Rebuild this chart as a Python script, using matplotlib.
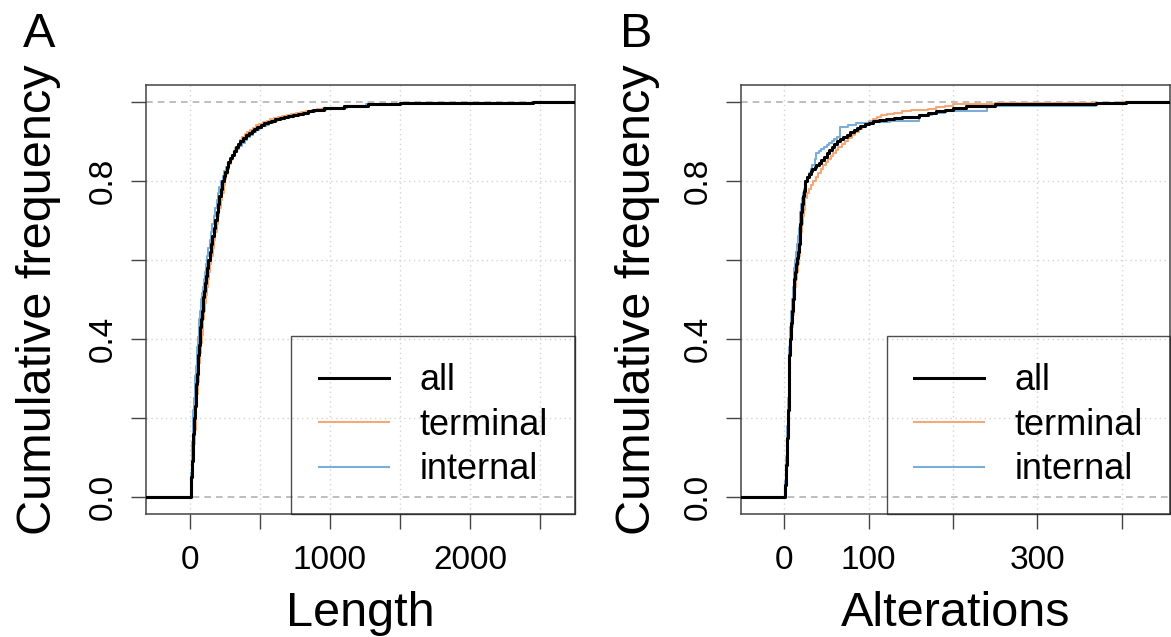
import numpy as np
import matplotlib
matplotlib.use("Agg")
import matplotlib.pyplot as plt

plt.rcParams['font.family'] = ['Liberation Sans', 'DejaVu Sans']

# ECDF step points: knots and cumulative frequency
len_all_x = [5, 10, 15, 20, 25, 30, 35, 40, 45, 50, 55, 60, 65, 70, 75, 80, 85, 90, 95, 100, 108, 115, 122,
             130, 140, 150, 160, 170, 180, 190, 200, 210, 220, 230, 240, 250, 262, 275, 288, 300, 315, 330,
             345, 360, 380, 400, 420, 440, 460, 480, 505, 530, 555, 580, 610, 640, 670, 700, 735, 770, 805,
             840, 880, 920, 960, 1000, 1100, 1270, 1500, 2450]
len_all_y = [.02, .05, .09, .12, .16, .2, .23, .26, .285, .31, .335, .36, .385, .41, .43, .45, .47, .49, .505,
             .52, .54, .56, .58, .6, .62, .64, .66, .68, .7, .72, .74, .76, .78, .8, .812, .823, .835, .847,
             .858, .866, .876, .885, .893, .9, .908, .915, .92, .925, .931, .937, .941, .945, .949, .952, .955,
             .958, .96, .963, .966, .968, .972, .975, .978, .98, .983, .985, .988, .995, .996, 1.0]

len_term_x = [6, 12, 18, 24, 30, 35, 40, 46, 52, 57, 62, 68, 74, 79, 85, 90, 95, 100, 106, 112, 120, 127,
              135, 142, 152, 162, 172, 182, 191, 200, 210, 220, 230, 240, 250, 258, 270, 280, 290, 300, 312,
              325, 340, 355, 372, 390, 410, 430, 450, 470, 495, 520, 548, 575, 600, 630, 660, 690, 725, 760,
              795, 830, 870, 910, 950, 990, 1100, 1280, 1500, 2460]
len_term_y = [.015, .04, .07, .1, .135, .17, .2, .23, .26, .29, .315, .34, .365, .39, .41, .43, .45, .47, .49,
              .51, .53, .55, .57, .59, .61, .63, .65, .67, .69, .71, .73, .75, .77, .79, .805, .817, .83, .842,
              .853, .862, .872, .882, .893, .903, .911, .918, .923, .928, .934, .94, .944, .948, .952, .955,
              .958, .96, .963, .965, .968, .97, .973, .976, .979, .981, .983, .985, .988, .995, .997, 1.0]

len_int_x = [4, 8, 12, 16, 21, 25, 30, 34, 39, 44, 48, 53, 58, 62, 67, 72, 77, 82, 87, 92, 99, 106, 113,
             120, 130, 140, 150, 160, 170, 180, 190, 200, 211, 222, 233, 245, 258, 270, 285, 300, 318, 335,
             352, 370, 390, 410, 430, 450, 470, 490, 515, 540, 565, 590, 620, 650, 680, 710, 745, 780, 815,
             850, 890, 930, 970, 1010, 1120, 1260, 1500, 2440]
len_int_y = [.025, .06, .1, .14, .18, .22, .25, .28, .305, .33, .355, .38, .405, .43, .45, .47, .485, .5,
             .515, .53, .55, .57, .59, .61, .63, .65, .67, .69, .71, .73, .75, .77, .785, .8, .812, .825,
             .835, .845, .855, .865, .872, .88, .888, .895, .903, .91, .916, .922, .928, .933, .938, .942,
             .946, .95, .953, .956, .959, .962, .965, .967, .97, .973, .976, .979, .982, .984, .988, .994,
             .996, 1.0]

alt_all_x = [1, 2, 3, 4, 5, 6, 7, 8, 9, 10, 11, 12, 13, 14, 15, 16, 17, 18, 19, 20, 21, 22, 23, 24, 25, 27,
             29, 31, 33, 36, 38, 41, 44, 47, 50, 53, 56, 59, 62, 66, 70, 74, 78, 82, 86, 90, 95, 100, 105,
             112, 120, 130, 140, 150, 160, 170, 180, 190, 200, 215, 250, 300, 370, 405]
alt_all_y = [.03, .08, .15, .22, .3, .36, .4, .44, .47, .5, .525, .55, .57, .59, .605, .62, .64, .66, .69,
             .72, .74, .76, .775, .79, .8, .81, .818, .825, .83, .835, .84, .845, .852, .86, .87, .878, .885,
             .892, .9, .905, .91, .916, .922, .927, .932, .938, .943, .947, .95, .953, .956, .958, .96, .962,
             .965, .97, .975, .98, .985, .99, .993, .995, .997, 1.0]

alt_term_x = [1, 2, 3, 4, 5, 6, 7, 8, 9, 10, 11, 12, 13, 14, 15, 16, 17, 18, 19, 20, 21, 22, 23, 24, 25, 27,
              29, 31, 34, 37, 40, 43, 46, 49, 52, 55, 58, 61, 64, 68, 72, 76, 80, 84, 88, 92, 96, 100, 105,
              110, 115, 122, 130, 140, 150, 160, 170, 180, 190, 200, 210, 250, 400]
alt_term_y = [.02, .06, .12, .18, .25, .31, .36, .4, .43, .46, .485, .51, .53, .55, .57, .59, .61, .63, .65,
              .67, .69, .71, .725, .74, .755, .77, .78, .79, .8, .81, .82, .83, .84, .848, .855, .862, .87,
              .878, .885, .892, .9, .908, .915, .922, .93, .937, .945, .95, .955, .96, .965, .968, .972, .975,
              .978, .98, .982, .986, .99, .993, .995, .997, 1.0]

alt_int_x = [1, 2, 3, 4, 5, 6, 7, 8, 9, 10, 11, 12, 13, 14, 15, 16, 17, 18, 19, 20, 21, 22, 23, 24, 25, 27,
             29, 31, 33, 36, 38, 41, 44, 47, 50, 53, 56, 59, 62, 66, 75, 85, 100, 125, 160, 175, 190, 240,
             370, 405]
alt_int_y = [.04, .1, .18, .25, .32, .38, .43, .47, .5, .53, .555, .58, .6, .62, .64, .66, .68, .7, .72, .74,
             .755, .77, .78, .79, .8, .81, .82, .83, .84, .855, .87, .875, .88, .885, .89, .895, .9, .905,
             .91, .935, .94, .945, .948, .95, .965, .97, .975, .99, .994, 1.0]

series_names = ['all', 'terminal', 'internal']
series_colors = ['black', '#f2a877', '#7aaed6']
series_widths = [2.2, 1.5, 1.5]

len_xticks = [0, 500, 1000, 1500, 2000, 2500]
len_xlabels = ['0', '', '1000', '', '2000', '']
alt_xticks = [0, 100, 200, 300, 400]
alt_xlabels = ['0', '100', '', '300', '']
yticks = [0, 0.2, 0.4, 0.6, 0.8, 1.0]
ylabels = ['0.0', '', '0.4', '', '0.8', '']

W, H = 1171, 637
fig = plt.figure(figsize=(W / 100, H / 100), dpi=100)


def panel(left_px, xlim, data, xticks, xlabels, xlab, letter, letter_x, ylab_x):
    ax = fig.add_axes([left_px / W, (H - 514.3) / H, 429.3 / W, (514.3 - 85) / H])
    ax.set_xlim(xlim)
    ax.set_ylim(-0.044, 1.042)
    for v in xticks:
        ax.axvline(v, color='#d3d3d3', lw=1, ls=(0, (1, 2.5)), zorder=0)
    for v in yticks[1:-1]:
        ax.axhline(v, color='#d3d3d3', lw=1, ls=(0, (1, 2.5)), zorder=0)
    for v in (0, 1):
        ax.axhline(v, color='#b3b3b3', lw=1.2, ls=(0, (4, 3)), zorder=1)
    handles = {}
    for i in [1, 2, 0]:
        xs, ys = data[i]
        px = [xlim[0]] + list(xs) + [xlim[1]]
        py = [0] + list(ys) + [ys[-1]]
        ln, = ax.step(px, py, where='post', color=series_colors[i], lw=series_widths[i],
                      zorder=2 + (i == 0))
        handles[i] = ln
    leg = ax.legend([handles[i] for i in range(3)], series_names, loc='lower right',
                    borderaxespad=0, fontsize=26, handlelength=1.95, handletextpad=0.85,
                    borderpad=0.75, labelspacing=0.26, fancybox=False, frameon=True)
    leg.get_frame().set_facecolor('none')
    leg.get_frame().set_edgecolor('#222222')
    leg.get_frame().set_linewidth(1.0)
    ax.set_xticks(xticks)
    ax.set_xticklabels(xlabels)
    ax.set_yticks(yticks)
    ax.set_yticklabels(ylabels, rotation=90, va='center')
    ax.tick_params(axis='both', length=10.8, width=1.0, color='#444444', labelsize=24)
    ax.tick_params(axis='x', pad=11)
    ax.tick_params(axis='y', pad=8.5)
    for s in ax.spines.values():
        s.set_color('#444444')
        s.set_linewidth(1.1)
    cx = (left_px + 429.3 / 2) / W
    fig.text(cx, 10.5 / H, xlab, ha='center', va='baseline', fontsize=35)
    fig.text(ylab_x / W, (H - 299.7) / H, 'Cumulative frequency', rotation=90,
             rotation_mode='anchor', ha='center', va='baseline', fontsize=35)
    fig.text(letter_x / W, 1 - 47 / H, letter, ha='left', va='baseline', fontsize=35)
    return ax


panel(145.7, (-316, 2750),
      [(len_all_x, len_all_y), (len_term_x, len_term_y), (len_int_x, len_int_y)],
      len_xticks, len_xlabels, 'Length', 'A', 23, 51)
panel(741, (-51.4, 457.5),
      [(alt_all_x, alt_all_y), (alt_term_x, alt_term_y), (alt_int_x, alt_int_y)],
      alt_xticks, alt_xlabels, 'Alterations', 'B', 619.5, 650)

fig.savefig('out.png', dpi=100)
